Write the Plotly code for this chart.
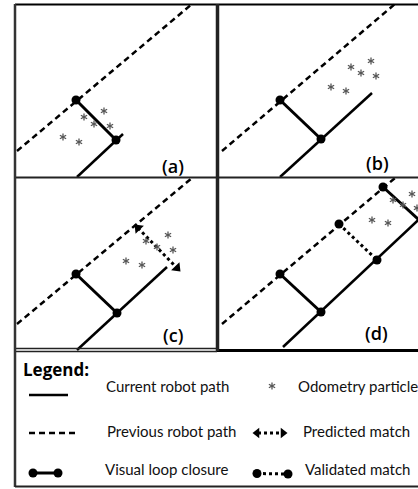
import math
import plotly.graph_objects as go

W, H = 418, 489
FONT = "Lato"

# ---------------- diagram data (pixel space, y down) ----------------
# panel (a)
prev_a_x, prev_a_y = [17, 192], [151, 4]
curr_a_x, curr_a_y = [77, 123], [177, 134]
clos_a_x, clos_a_y = [76, 116], [100, 140]
stars_a_x = [63, 79, 84, 94, 104, 110]
stars_a_y = [137, 142, 117, 124, 111, 126]

# panel (b)
prev_b_x, prev_b_y = [222, 395], [151, 4]
curr_b_x, curr_b_y = [280, 372], [177, 93]
clos_b_x, clos_b_y = [280, 321], [100, 139]
stars_b_x = [331, 346, 351, 361, 371, 376]
stars_b_y = [87, 91, 67, 73, 61, 76]

# panel (c)
prev_c_x, prev_c_y = [17, 192], [324, 178]
curr_c_x, curr_c_y = [77, 167], [350, 267]
clos_c_x, clos_c_y = [76, 117], [274, 313]
pred_c_x, pred_c_y = [138, 177], [228, 268]
stars_c_x = [126, 142, 146, 157, 168, 173]
stars_c_y = [261, 265, 241, 247, 235, 250]

# panel (d)
prev_d_x, prev_d_y = [222, 395], [324, 178]
curr_d_x, curr_d_y = [283, 430], [347, 209]
clos_d_x, clos_d_y = [280, 321], [274, 312]
valid_d_x, valid_d_y = [339, 377], [224, 260]
clos2_d_x, clos2_d_y = [383, 419], [187, 220]
stars_d_x = [372, 388, 393, 403, 412, 417]
stars_d_y = [220, 223, 200, 205, 194, 208]

# legend particle symbol
stars_leg_x, stars_leg_y = [272], [386]

panel_labels = ["(a)", "(b)", "(c)", "(d)"]
panel_label_x = [173, 377, 173, 376]
panel_label_y = [166, 163, 335, 333]

legend_title = "Legend:"
legend_texts = ["Current robot path", "Previous robot path", "Visual loop closure",
                "Odometry particle", "Predicted match", "Validated match"]
legend_text_x = [104, 105, 103, 296, 301, 303]
legend_text_y = [386, 431, 469, 386, 431, 469]

fig = go.Figure()

def line(x, y, width=2.5, dash=None, color="black"):
    fig.add_trace(go.Scatter(x=x, y=y, mode="lines",
                             line=dict(color=color, width=width, dash=dash),
                             hoverinfo="skip"))

def dots(x, y, size=9):
    fig.add_trace(go.Scatter(x=x, y=y, mode="markers",
                             marker=dict(color="black", size=size),
                             hoverinfo="skip"))

def stars(xs, ys, r=3.6):
    # six-armed asterisk glyphs drawn as three crossing strokes
    px, py = [], []
    for cx, cy in zip(xs, ys):
        for ang in (90, 30, 150):
            dx = r * math.cos(math.radians(ang))
            dy = r * math.sin(math.radians(ang))
            px += [cx - dx, cx + dx, None]
            py += [cy - dy, cy + dy, None]
    fig.add_trace(go.Scatter(x=px, y=py, mode="lines",
                             line=dict(color="#555", width=1.3),
                             hoverinfo="skip"))

DASH = "6px,4px"

# panel (a)
line(prev_a_x, prev_a_y, 2.5, DASH)
line(curr_a_x, curr_a_y, 2.5)
line(clos_a_x, clos_a_y, 3)
dots(clos_a_x, clos_a_y)
stars(stars_a_x, stars_a_y)

# panel (b)
line(prev_b_x, prev_b_y, 2.5, DASH)
line(curr_b_x, curr_b_y, 2.5)
line(clos_b_x, clos_b_y, 3)
dots(clos_b_x, clos_b_y)
stars(stars_b_x, stars_b_y)

# panel (c)
line(prev_c_x, prev_c_y, 2.5, DASH)
line(curr_c_x, curr_c_y, 2.5)
line(clos_c_x, clos_c_y, 3)
dots(clos_c_x, clos_c_y)
line(pred_c_x, pred_c_y, 3, "dot")
fig.add_trace(go.Scatter(x=pred_c_x, y=pred_c_y, mode="markers",
                         marker=dict(symbol="triangle-up", size=10, color="black",
                                     angle=[-44, 136]),
                         hoverinfo="skip"))
stars(stars_c_x, stars_c_y)

# panel (d)
line(prev_d_x, prev_d_y, 2.5, DASH)
line(curr_d_x, curr_d_y, 2.5)
line(clos_d_x, clos_d_y, 3)
dots(clos_d_x, clos_d_y)
line(valid_d_x, valid_d_y, 3, "dot")
dots(valid_d_x, valid_d_y)
line(clos2_d_x, clos2_d_y, 3)
dots(clos2_d_x[:1], clos2_d_y[:1])
stars(stars_d_x, stars_d_y)

# legend symbols
line([29, 68], [395, 395], 2.5)
line([29, 77], [433, 433], 2.5, DASH)
line([33, 58], [473, 473], 3)
dots([33, 58], [473, 473])
stars(stars_leg_x, stars_leg_y)
line([258, 282], [433, 433], 3, "dot")
fig.add_trace(go.Scatter(x=[257, 283], y=[433, 433], mode="markers",
                         marker=dict(symbol="triangle-up", size=9, color="black",
                                     angle=[-90, 90]),
                         hoverinfo="skip"))
line([257, 288], [473.5, 474], 3, "dot")
dots([257, 288], [473.5, 474])

# frames
shapes = []
def seg(x0, y0, x1, y1, w=2, c="#222"):
    shapes.append(dict(type="line", x0=x0, y0=y0, x1=x1, y1=y1,
                       line=dict(color=c, width=w), layer="above"))
seg(15, 4.5, 418, 4.5, 2, "black")
seg(15, 177.5, 418, 177.5, 2)
seg(15, 348.5, 217, 348.5, 1.5)
seg(15, 351.5, 217, 351.5, 1.5)
seg(217, 350.5, 418, 350.5, 3, "black")
seg(217.5, 4, 217.5, 351, 3.5)
seg(15, 4, 15, 487, 2.5, "#333")
seg(15, 486.5, 418, 486.5, 2, "#222")

annotations = []
for t, x, y in zip(panel_labels, panel_label_x, panel_label_y):
    annotations.append(dict(x=x, y=y, text=t, showarrow=False, xanchor="center",
                            yanchor="middle",
                            font=dict(family="Open Sans", size=18, color="black", weight=600)))
annotations.append(dict(x=21, y=369, text=legend_title, showarrow=False,
                        xanchor="left", yanchor="middle",
                        font=dict(family="Open Sans", size=17, color="black", weight=700)))
for t, x, y in zip(legend_texts, legend_text_x, legend_text_y):
    annotations.append(dict(x=x, y=y, text=t, showarrow=False, xanchor="left",
                            yanchor="middle", font=dict(family=FONT, size=15, color="#111")))

fig.update_layout(
    width=W, height=H,
    margin=dict(l=0, r=0, t=0, b=0),
    paper_bgcolor="white", plot_bgcolor="white",
    showlegend=False,
    xaxis=dict(range=[0, W], visible=False, fixedrange=True),
    yaxis=dict(range=[H, 0], visible=False, fixedrange=True),
    shapes=shapes,
    annotations=annotations,
)

fig.write_html("out.html", config={"displayModeBar": False},
               post_script="document.body.style.margin='0';")
